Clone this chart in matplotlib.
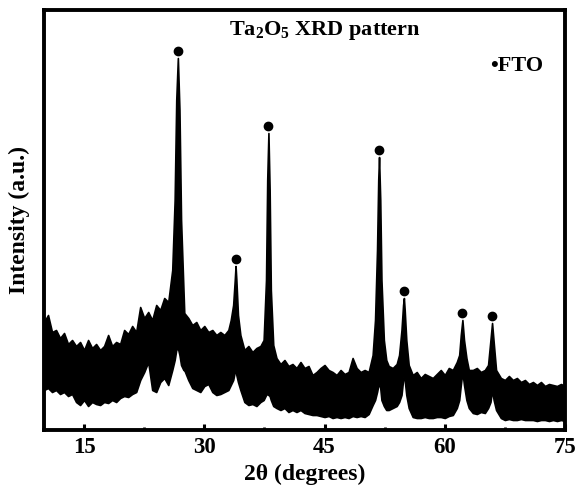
import matplotlib
matplotlib.use("Agg")
import matplotlib.pyplot as plt
from matplotlib.ticker import MultipleLocator

# ---------------- data ----------------
# 2-theta positions (degrees) of the envelope samples
two_theta = [
    10.0, 10.5, 11.0, 11.5, 12.0, 12.5, 13.0, 13.5, 14.0, 14.5,
    15.0, 15.5, 16.0, 16.5, 17.0, 17.5, 18.0, 18.5, 19.0, 19.5,
    20.0, 20.5, 21.0, 21.5, 22.0, 22.5, 23.0, 23.5, 24.0, 24.5,
    25.0, 25.5, 26.0, 26.3, 26.5, 26.7, 26.9, 27.1, 27.4, 27.5,
    28.0, 28.5, 29.0, 29.5, 30.0, 30.5, 31.0, 31.5, 32.0, 32.5,
    33.0, 33.3, 33.6, 33.8, 33.9, 34.0, 34.2, 34.5, 35.0, 35.5,
    36.0, 36.5, 37.0, 37.4, 37.7, 37.85, 38.0, 38.15, 38.3, 38.6,
    39.0, 39.5, 40.0, 40.5, 41.0, 41.5, 42.0, 42.5, 43.0, 43.5,
    44.0, 44.5, 45.0, 45.5, 46.0, 46.5, 47.0, 47.5, 48.0, 48.5,
    49.0, 49.5, 50.0, 50.5, 51.0, 51.3, 51.55, 51.7, 51.8, 51.95,
    52.1, 52.4, 52.7, 53.0, 53.5, 54.0, 54.3, 54.6, 54.8, 54.9,
    55.0, 55.2, 55.5, 56.0, 56.5, 57.0, 57.5, 58.0, 58.5, 59.0,
    59.5, 60.0, 60.5, 61.0, 61.5, 61.8, 62.0, 62.2, 62.4, 62.7,
    63.0, 63.5, 64.0, 64.5, 65.0, 65.4, 65.7, 65.9, 66.1, 66.4,
    67.0, 67.5, 68.0, 68.5, 69.0, 69.5, 70.0, 70.5, 71.0, 71.5,
    72.0, 72.5, 73.0, 73.5, 74.0, 74.5, 75.0,
]
# upper edge of the noisy trace (a.u.)
intensity_upper = [
    108, 115, 98, 100, 92, 97, 86, 90, 84, 88,
    80, 90, 82, 86, 80, 84, 95, 84, 88, 86,
    100, 96, 104, 98, 123, 112, 118, 110, 125, 120,
    132, 128, 160, 230, 330, 372, 320, 210, 140, 117,
    112, 105, 108, 100, 104, 98, 100, 95, 98, 95,
    100, 110, 125, 150, 164, 150, 115, 95, 80, 84,
    78, 82, 84, 90, 150, 250, 297, 240, 140, 85,
    72, 66, 70, 64, 66, 62, 68, 62, 64, 55,
    58, 62, 65, 60, 58, 55, 60, 56, 58, 72,
    62, 58, 60, 58, 75, 110, 180, 250, 273, 230,
    150, 90, 70, 64, 62, 66, 75, 100, 125, 132,
    120, 90, 65, 55, 58, 52, 56, 54, 52, 56,
    60, 55, 62, 60, 68, 75, 95, 110, 90, 72,
    60, 60, 62, 58, 60, 65, 90, 107, 88, 60,
    52, 50, 54, 50, 52, 48, 50, 46, 48, 45,
    48, 44, 46, 45, 44, 46, 44,
]
# lower edge of the noisy trace (a.u.)
intensity_lower = [
    40, 42, 38, 40, 36, 38, 34, 36, 28, 25,
    30, 24, 28, 26, 25, 28, 27, 30, 28, 32,
    34, 33, 36, 38, 50, 58, 68, 40, 38, 48,
    52, 45, 60, 70, 80, 82, 75, 65, 60, 60,
    50, 42, 40, 38, 44, 46, 38, 35, 36, 38,
    40, 45, 50, 58, 63, 55, 48, 40, 28, 25,
    26, 24, 28, 30, 35, 36, 35, 34, 30, 24,
    22, 20, 22, 18, 20, 18, 20, 17, 16, 15,
    15, 14, 13, 14, 12, 13, 12, 13, 12, 14,
    13, 14, 13, 16, 25, 30, 38, 44, 47, 42,
    30, 24, 20, 20, 22, 24, 28, 35, 50, 57,
    50, 35, 22, 13, 12, 12, 13, 12, 12, 13,
    13, 12, 14, 15, 22, 30, 45, 58, 45, 30,
    22, 17, 16, 18, 17, 22, 28, 40, 30, 20,
    12, 10, 11, 10, 10, 11, 10, 10, 10, 9,
    10, 10, 9, 10, 9, 10, 9,
]
# FTO (SnO2) reflections marked with dots
fto_peak_pos = [26.7, 33.9, 38.0, 51.8, 54.9, 62.2, 65.9]
fto_peak_top = [372, 164, 297, 273, 132, 110, 107]

x_ticks = [15, 30, 45, 60, 75]
title_text = "Ta$_2$O$_5$ XRD pattern"
legend_text = "\u2022FTO"
x_label = "2\u03b8 (degrees)"
y_label = "Intensity (a.u.)"

# ---------------- styling ----------------
plt.rcParams["font.family"] = ["Liberation Serif", "DejaVu Serif"]
plt.rcParams["font.weight"] = "bold"
plt.rcParams["mathtext.fontset"] = "custom"
plt.rcParams["mathtext.rm"] = "Liberation Serif:bold"
plt.rcParams["mathtext.it"] = "Liberation Serif:bold"
plt.rcParams["mathtext.bf"] = "Liberation Serif:bold"
plt.rcParams["mathtext.default"] = "rm"

fig = plt.figure(figsize=(5.82, 4.95), dpi=100)
ax = fig.add_axes([44 / 582, 1 - 430 / 495, 521 / 582, 420 / 495])

ax.fill_between(two_theta, intensity_lower, intensity_upper,
                color="black", linewidth=1.2, edgecolor="black")
ax.plot(fto_peak_pos, [t + 7 for t in fto_peak_top], "o",
        color="black", markersize=6)

ax.set_xlim(10, 75)
ax.set_ylim(0, 420)
ax.set_xticks(x_ticks)
ax.xaxis.set_minor_locator(MultipleLocator(7.5))
ax.set_yticks([])
ax.tick_params(axis="x", which="major", direction="in", length=4,
               width=2.2, labelsize=16.5, pad=5)
ax.tick_params(axis="x", which="minor", direction="in", length=2,
               width=2.0)
for lab in ax.get_xticklabels():
    lab.set_fontweight("bold")
for sp in ax.spines.values():
    sp.set_linewidth(2.8)

ax.set_xlabel(x_label, fontsize=17, fontweight="bold", labelpad=4)
ax.set_ylabel(y_label, fontsize=17, fontweight="bold", labelpad=10)

ax.text(0.539, 0.95, title_text, transform=ax.transAxes, ha="center",
        va="center", fontsize=16, fontweight="bold")
ax.text(0.856, 0.867, legend_text, transform=ax.transAxes, ha="left",
        va="center", fontsize=16, fontweight="bold")

fig.savefig("out.png", dpi=100)
